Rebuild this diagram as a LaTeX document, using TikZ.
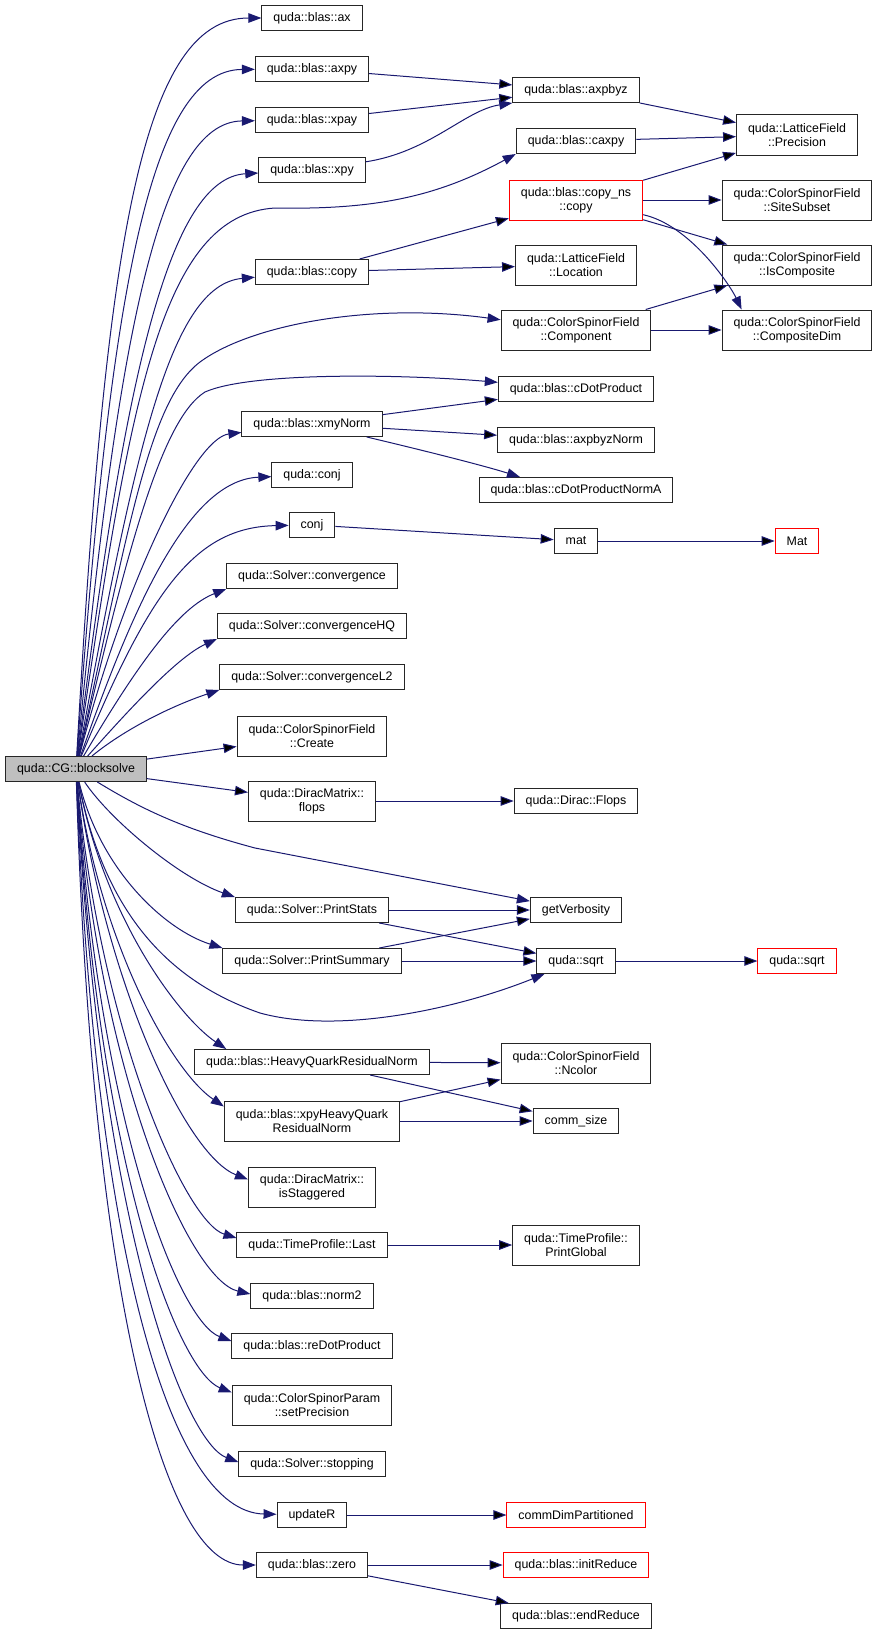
\documentclass[tikz,border=0pt]{standalone}
\usepackage{fontspec}
\setmainfont{Liberation Sans}
\usetikzlibrary{arrows.meta}
\definecolor{midnight}{HTML}{191970}

\begin{document}
\begin{tikzpicture}[x=1pt,y=-1pt,->,>={Triangle[length=13pt,width=9.5pt]},
  fn/.style = {draw=black!85, fill=white, line width=1pt, inner xsep=11.5pt, inner ysep=2pt,
               minimum height=25pt, align=center, font=\fontsize{12.4}{14}\selectfont},
  fn2/.style = {fn, minimum height=40pt},
  trunc/.style = {draw=red},
  root/.style = {fn, fill=black!25},
  call/.style = {draw=midnight, line width=1pt}]
\useasboundingbox (0,0) rectangle (879,1635);

% caller
\node[root] (blocksolve) at (76,769) {quda::CG::blocksolve};

% direct callees
\node[fn] (ax) at (312,18) {quda::blas::ax};
\node[fn] (axpy) at (312,69) {quda::blas::axpy};
\node[fn] (xpay) at (312,120) {quda::blas::xpay};
\node[fn] (xpy) at (312,170) {quda::blas::xpy};
\node[fn] (copy) at (312,272) {quda::blas::copy};
\node[fn] (xmyNorm) at (312,424) {quda::blas::xmyNorm};
\node[fn] (qconj) at (312,475) {quda::conj};
\node[fn] (conj) at (312,525) {conj};
\node[fn] (conv) at (312,576) {quda::Solver::convergence};
\node[fn] (convHQ) at (312,626) {quda::Solver::convergenceHQ};
\node[fn] (convL2) at (312,677) {quda::Solver::convergenceL2};
\node[fn2] (create) at (312,736) {quda::ColorSpinorField\\::Create};
\node[fn2] (flops) at (312,801) {quda::DiracMatrix::\\flops};
\node[fn] (stats) at (312,910) {quda::Solver::PrintStats};
\node[fn] (summary) at (312,961) {quda::Solver::PrintSummary};
\node[fn] (hqNorm) at (312,1062) {quda::blas::HeavyQuarkResidualNorm};
\node[fn2] (xpyHq) at (312,1121) {quda::blas::xpyHeavyQuark\\ResidualNorm};
\node[fn2] (stag) at (312,1187) {quda::DiracMatrix::\\isStaggered};
\node[fn] (last) at (312,1245) {quda::TimeProfile::Last};
\node[fn] (norm2) at (312,1296) {quda::blas::norm2};
\node[fn] (reDot) at (312,1346) {quda::blas::reDotProduct};
\node[fn2] (setPrec) at (312,1405) {quda::ColorSpinorParam\\::setPrecision};
\node[fn] (stop) at (312,1464) {quda::Solver::stopping};
\node[fn] (updateR) at (312,1515) {updateR};
\node[fn] (zero) at (312,1565) {quda::blas::zero};

% second level
\node[fn] (axpbyz) at (576,90) {quda::blas::axpbyz};
\node[fn] (caxpy) at (576,141) {quda::blas::caxpy};
\node[fn2,trunc] (copyNs) at (576,200) {quda::blas::copy\_ns\\::copy};
\node[fn2] (location) at (576,265) {quda::LatticeField\\::Location};
\node[fn2] (component) at (576,330) {quda::ColorSpinorField\\::Component};
\node[fn] (cDot) at (576,389) {quda::blas::cDotProduct};
\node[fn] (axpbyzNorm) at (576,440) {quda::blas::axpbyzNorm};
\node[fn] (cDotNormA) at (576,490) {quda::blas::cDotProductNormA};
\node[fn] (mat) at (576,541) {mat};
\node[fn] (diracFlops) at (576,801) {quda::Dirac::Flops};
\node[fn] (verb) at (576,910) {getVerbosity};
\node[fn] (sqrtA) at (576,961) {quda::sqrt};
\node[fn2] (ncolor) at (576,1063) {quda::ColorSpinorField\\::Ncolor};
\node[fn] (commSize) at (576,1121) {comm\_size};
\node[fn2] (printGlobal) at (576,1245) {quda::TimeProfile::\\PrintGlobal};
\node[fn,trunc] (commDim) at (576,1515) {commDimPartitioned};
\node[fn,trunc] (initRed) at (576,1565) {quda::blas::initReduce};
\node[fn] (endRed) at (576,1616) {quda::blas::endReduce};

% third level
\node[fn2] (precision) at (797,135) {quda::LatticeField\\::Precision};
\node[fn2] (siteSubset) at (797,200) {quda::ColorSpinorField\\::SiteSubset};
\node[fn2] (isComp) at (797,265) {quda::ColorSpinorField\\::IsComposite};
\node[fn2] (compDim) at (797,330) {quda::ColorSpinorField\\::CompositeDim};
\node[fn,trunc] (Mat) at (797,541) {Mat};
\node[fn,trunc] (sqrtB) at (797,961) {quda::sqrt};

% blocksolve -> upper callees
\draw[call] (blocksolve) .. controls (105,250) and (140,18) .. (ax);
\draw[call] (blocksolve) .. controls (110,290) and (150,70) .. (axpy);
\draw[call] (blocksolve) .. controls (118,330) and (160,122) .. (xpay);
\draw[call] (blocksolve) .. controls (125,370) and (170,178) .. (xpy);
\draw[call] (blocksolve) .. controls (130,400) and (160,215) .. (275,208)
  .. controls (380,210) and (440,195) .. (caxpy.south west);
\draw[call] (blocksolve) .. controls (135,450) and (170,285) .. (copy);
\draw[call] (blocksolve) .. controls (130,520) and (150,400) .. (200,362)
  .. controls (250,325) and (370,302) .. (component);
\draw[call] (blocksolve) .. controls (125,560) and (160,420) .. (205,392)
  .. controls (250,372) and (400,374) .. (cDot);
\draw[call] (blocksolve) .. controls (125,580) and (195,438) .. (xmyNorm);
\draw[call] (blocksolve) .. controls (135,600) and (190,480) .. (qconj);
\draw[call] (blocksolve) .. controls (150,590) and (195,527) .. (conj);
\draw[call] (blocksolve) .. controls (140,660) and (180,607) .. (conv.south west);
\draw[call] (blocksolve) .. controls (120,720) and (175,658) .. (convHQ.south west);
\draw[call] (blocksolve) .. controls (130,725) and (180,703) .. (convL2.south west);

% blocksolve -> lower callees
\draw[call] (blocksolve) .. controls (140,808) and (180,828) .. (255,848) -- (verb);
\draw[call] (blocksolve) .. controls (110,820) and (180,878) .. (stats.north west);
\draw[call] (blocksolve) .. controls (100,870) and (165,930) .. (summary.north west);
\draw[call] (blocksolve) .. controls (100,890) and (150,975) .. (260,1013)
  .. controls (340,1035) and (460,1008) .. ([xshift=8pt]sqrtA.south west);
\draw[call] (blocksolve) .. controls (105,920) and (180,1018) .. ([xshift=32pt]hqNorm.north west);
\draw[call] (blocksolve) .. controls (100,940) and (170,1070) .. ([yshift=-6pt]xpyHq.north west);
\draw[call] (blocksolve) .. controls (105,980) and (185,1155) .. ([yshift=-13pt]stag.north west);
\draw[call] (blocksolve) .. controls (100,1030) and (185,1222) .. ([yshift=-6pt]last.north west);
\draw[call] (blocksolve) .. controls (100,1080) and (190,1280) .. ([yshift=-11pt]norm2.north west);
\draw[call] (blocksolve) .. controls (100,1130) and (180,1322) .. ([yshift=-8pt]reDot.north west);
\draw[call] (blocksolve) .. controls (100,1180) and (180,1372) .. ([yshift=-8pt]setPrec.north west);
\draw[call] (blocksolve) .. controls (100,1230) and (185,1442) .. ([yshift=-11pt]stop.north west);
\draw[call] (blocksolve) .. controls (95,1250) and (170,1512) .. (updateR);
\draw[call] (blocksolve) .. controls (92,1300) and (165,1565) .. (zero);

% bent calls further right
\draw[call] (xpy) .. controls (430,152) and (465,110) .. (axpbyz.south west);
\draw[call] (copyNs) .. controls (690,225) and (730,285) .. ([xshift=20pt]compDim.north west);
\draw[call] (xmyNorm) .. controls (430,452) and (485,466) .. ([xshift=-56pt]cDotNormA.north);

\path[call]
    % blocksolve
    (blocksolve) edge (create)
    (blocksolve) edge (flops)
    % blas kernels
    (axpy) edge (axpbyz)
    (xpay) edge (axpbyz)
    (axpbyz) edge (precision)
    (caxpy) edge (precision)
    % copy
    (copy) edge (copyNs)
    (copy) edge (location)
    (copyNs) edge (precision)
    (copyNs) edge (siteSubset)
    (copyNs) edge (isComp)
    (component) edge (isComp)
    (component) edge (compDim)
    % norms
    (xmyNorm) edge (cDot)
    (xmyNorm) edge (axpbyzNorm)
    (conj) edge (mat)
    (mat) edge (Mat)
    (flops) edge (diracFlops)
    % printing
    (stats) edge (verb)
    (stats) edge (sqrtA)
    (summary) edge (verb)
    (summary) edge (sqrtA)
    (sqrtA) edge (sqrtB)
    % heavy quark
    (hqNorm) edge (ncolor)
    (hqNorm) edge (commSize)
    (xpyHq) edge (ncolor)
    (xpyHq) edge (commSize)
    % the rest
    (last) edge (printGlobal)
    (updateR) edge (commDim)
    (zero) edge (initRed)
    (zero) edge (endRed)
 ;
\end{tikzpicture}
\end{document}
